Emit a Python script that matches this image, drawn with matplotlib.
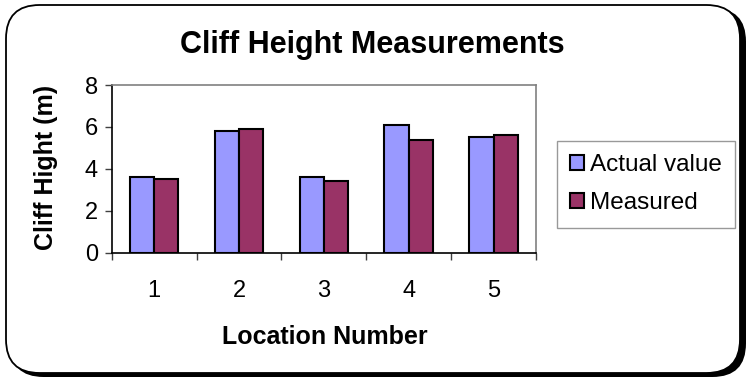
import numpy as np
import matplotlib.pyplot as plt
from matplotlib.patches import FancyBboxPatch

plt.rcParams['font.family'] = ['Liberation Sans', 'DejaVu Sans']

locations = ['1', '2', '3', '4', '5']
actual_value = [3.6, 5.8, 3.6, 6.1, 5.5]
measured = [3.5, 5.9, 3.4, 5.4, 5.6]

W, H = 747, 379
fig = plt.figure(figsize=(W / 100, H / 100), dpi=100)

# rounded chart border with a drop shadow on the right and bottom
shadow = FancyBboxPatch((10 / W, 2 / H), 736 / W, 369 / H,
                        boxstyle="round,pad=0,rounding_size=0.045",
                        transform=fig.transFigure, facecolor='black',
                        edgecolor='black', lw=0, mutation_aspect=W / H,
                        zorder=-2)
frame = FancyBboxPatch((6 / W, 6 / H), 734 / W, 368 / H,
                       boxstyle="round,pad=0,rounding_size=0.045",
                       transform=fig.transFigure, facecolor='white',
                       edgecolor='black', lw=1.3, mutation_aspect=W / H,
                       zorder=-1)
fig.patches.extend([shadow, frame])

ax = fig.add_axes([111.7 / W, 1 - 252.7 / H, 424.3 / W, 167.7 / H])
ax.set_facecolor('none')

x = np.arange(len(locations))
w = 0.286
ax.bar(x - w / 2, actual_value, w, color='#9999FF', edgecolor='black',
       linewidth=1.5, label='Actual value')
ax.bar(x + w / 2, measured, w, color='#993366', edgecolor='black',
       linewidth=1.5, label='Measured')

ax.set_xlim(-0.5, len(locations) - 0.5)
ax.set_ylim(0, 8)
ax.set_yticks([0, 2, 4, 6, 8])
ax.set_xticks(x)
ax.set_xticklabels(locations)
ax.set_xticks(np.arange(-0.5, len(locations)), minor=True)
ax.tick_params(axis='x', which='major', length=0, pad=20, labelsize=17)
ax.tick_params(axis='x', which='minor', length=5, direction='out', width=1, color='#404040')
ax.tick_params(axis='y', length=5, direction='out', width=1, color='#404040',
               labelsize=17, pad=5)

for side in ['top', 'right']:
    ax.spines[side].set_color('#808080')
    ax.spines[side].set_linewidth(1.2)
for side in ['left', 'bottom']:
    ax.spines[side].set_color('black')
    ax.spines[side].set_linewidth(1.2)

fig.text(372 / W, 1 - 45 / H, 'Cliff Height Measurements', ha='center',
         va='center', fontsize=22, fontweight='bold')
fig.text(46 / W, 1 - 167 / H, 'Cliff Hight (m)', ha='center', va='center',
         rotation=90, fontsize=18, fontweight='bold')
fig.text(325 / W, 1 - 337 / H, 'Location Number', ha='center', va='center',
         fontsize=18, fontweight='bold')

leg = fig.legend(loc='upper left', bbox_to_anchor=(557 / W, 1 - 141 / H),
                 bbox_transform=fig.transFigure, fontsize=17.5, frameon=True,
                 fancybox=False, edgecolor='#808080', handlelength=0.55,
                 handleheight=0.55, handletextpad=0.25, labelspacing=0.65,
                 borderpad=0.55, borderaxespad=0)
leg.get_frame().set_linewidth(1.0)

fig.savefig('out.png', dpi=100)
